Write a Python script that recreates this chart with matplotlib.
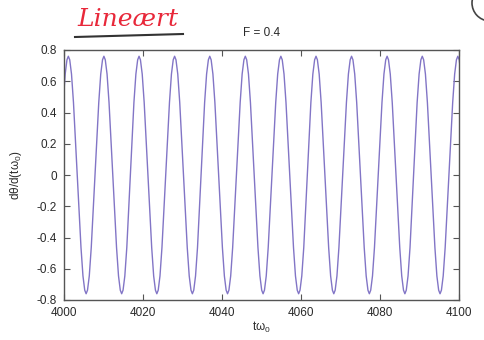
import numpy as np
import matplotlib
matplotlib.use("Agg")
import matplotlib.pyplot as plt
from matplotlib.patches import Arc

plt.rcParams['font.family'] = ['Liberation Sans', 'DejaVu Sans']

# Valeurs
peak_t = [4001.1, 4010.1, 4019.0, 4028.0, 4036.9, 4045.9, 4054.9, 4063.8,
          4072.8, 4081.8, 4090.7, 4099.7]
trough_t = [4005.6, 4014.6, 4023.5, 4032.5, 4041.4, 4050.4, 4059.4, 4068.3,
            4077.3, 4086.3, 4095.2]
zero_t = [4003.35, 4007.85, 4012.35, 4016.8, 4021.25, 4025.75, 4030.25,
          4034.7, 4039.15, 4043.65, 4048.15, 4052.65, 4057.15, 4061.6,
          4066.05, 4070.55, 4075.05, 4079.55, 4084.05, 4088.5, 4092.95, 4097.45]
peak_v = 0.76
trough_v = -0.76
# forme d'un lobe autour d'un extremum (decalage en t, fraction de l'amplitude)
lobe_dt = [-1.3, -0.8, -0.35, 0.0, 0.35, 0.8, 1.3]
lobe_frac = [0.61, 0.85, 0.97, 1.0, 0.97, 0.85, 0.61]

xticks = [4000, 4020, 4040, 4060, 4080, 4100]
yticks = [-0.8, -0.6, -0.4, -0.2, 0, 0.2, 0.4, 0.6, 0.8]

# Assemblage de la courbe
pts = [(z, 0.0) for z in zero_t]
for tp in peak_t:
    pts += [(tp + d, peak_v * f) for d, f in zip(lobe_dt, lobe_frac)]
for tt in trough_t:
    pts += [(tt + d, trough_v * f) for d, f in zip(lobe_dt, lobe_frac)]
pts.sort()
tab_t = [p[0] for p in pts]
tab_v = [p[1] for p in pts]

fig = plt.figure(figsize=(4.84, 3.40), dpi=100, facecolor='white')
ax = fig.add_axes([64 / 484, 1 - 300 / 340, 395 / 484, 250 / 340])

ax.plot(tab_t, tab_v, color='#8275c6', lw=1.0)

ax.set_xlim(4000, 4100)
ax.set_ylim(-0.8, 0.8)
ax.set_xticks(xticks)
ax.set_yticks(yticks)
ax.set_yticklabels(['-0.8', '-0.6', '-0.4', '-0.2', '0', '0.2', '0.4', '0.6', '0.8'])
ax.tick_params(direction='in', top=True, right=True, length=4, width=0.8,
               labelsize=8.5, colors='#555555', labelcolor='#2a2a2a', pad=5)
for s in ax.spines.values():
    s.set_color('#555555')
    s.set_linewidth(1.0)

ax.set_xlabel(r'$\mathregular{t\omega_0}$', fontsize=8.5, color='#2a2a2a', labelpad=1)
ax.set_ylabel(r'$\mathregular{d\theta/d(t\omega_0)}$', fontsize=8.5, color='#2a2a2a', labelpad=9)
ax.set_title('F = 0.4', fontsize=8.5, color='#2a2a2a', pad=10)

# annotation manuscrite
fig.text(128 / 484, 1 - 20 / 340, 'Lineært', color='#e8283a', fontsize=18,
         family='DejaVu Serif', style='italic', ha='center', va='center')
fig.add_artist(plt.Line2D([75 / 484, 183 / 484], [1 - 37 / 340, 1 - 34 / 340],
                          color='#333333', lw=1.5))
fig.add_artist(Arc((4.90, 3.37), 0.36, 0.36, theta1=95, theta2=265,
                   transform=fig.dpi_scale_trans, color='#444444', lw=1.2,
                   clip_on=False))

fig.savefig('out.png', dpi=100, facecolor='white')
